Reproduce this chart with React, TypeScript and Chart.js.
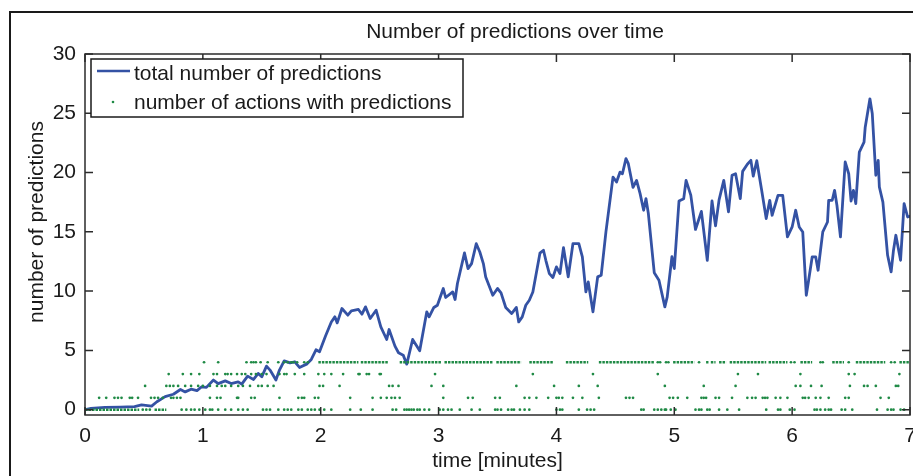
import { useEffect, useRef } from "react";
import { Chart, registerables } from "chart.js";

Chart.register(...registerables);

const FONT = '"Liberation Sans", Arial, Helvetica, sans-serif';
const TEXT = "#1a1a1a";
const BLUE = "#3452a4";
const GREEN = "#1f8a45";

const chartTitle = "Number of predictions over time";
const xTitle = "time [minutes]";
const yTitle = "number of predictions";
const lineLabel = "total number of predictions";
const dotLabel = "number of actions with predictions";

const xTicks = [0, 1, 2, 3, 4, 5, 6, 7];
const yTicks = [0, 5, 10, 15, 20, 25, 30];

// total number of predictions: time (minutes) and value
const timeMin = [
  0, 0.05, 0.17, 0.3, 0.42, 0.48, 0.565, 0.61, 0.68, 0.75, 0.81, 0.85, 0.9, 0.95, 0.99, 1.03,
  1.09, 1.13, 1.19, 1.24, 1.3, 1.33, 1.38, 1.43, 1.47, 1.5, 1.54, 1.57, 1.62, 1.65, 1.69, 1.74,
  1.78, 1.82, 1.88, 1.92, 1.96, 1.99, 2.04, 2.09, 2.12, 2.14, 2.18, 2.23, 2.26, 2.32, 2.35, 2.38,
  2.42, 2.47, 2.51, 2.56, 2.58, 2.63, 2.66, 2.7, 2.73, 2.78, 2.84, 2.9, 2.92, 2.96, 2.99, 3.04,
  3.06, 3.12, 3.14, 3.16, 3.22, 3.25, 3.28, 3.32, 3.35, 3.38, 3.4, 3.46, 3.5, 3.53, 3.57, 3.62,
  3.66, 3.68, 3.71, 3.74, 3.77, 3.8, 3.86, 3.89, 3.91, 3.94, 3.97, 4.0, 4.03, 4.06, 4.1, 4.14,
  4.19, 4.22, 4.25, 4.27, 4.31, 4.35, 4.38, 4.42, 4.48, 4.51, 4.54, 4.56, 4.59, 4.61, 4.65, 4.68,
  4.71, 4.74, 4.76, 4.78, 4.83, 4.87, 4.92, 4.94, 4.98, 5.0, 5.04, 5.08, 5.1, 5.14, 5.18, 5.23,
  5.28, 5.32, 5.35, 5.38, 5.42, 5.46, 5.49, 5.52, 5.56, 5.58, 5.62, 5.65, 5.67, 5.7, 5.74, 5.78,
  5.81, 5.83, 5.88, 5.92, 5.96, 6.0, 6.03, 6.06, 6.09, 6.12, 6.14, 6.17, 6.2, 6.22, 6.26, 6.3,
  6.31, 6.34, 6.36, 6.38, 6.41, 6.45, 6.48, 6.5, 6.52, 6.54, 6.57, 6.61, 6.62, 6.66, 6.68, 6.71,
  6.73, 6.74, 6.77, 6.81, 6.84, 6.86, 6.88, 6.92, 6.95, 6.98, 7.0,
];
const totalPredictions = [
  0, 0.1, 0.2, 0.22, 0.25, 0.4, 0.3, 0.67, 1.1, 1.3, 1.7, 1.5, 1.73, 1.6, 1.93, 1.88,
  2.5, 2.2, 2.43, 2.2, 2.35, 2.15, 2.83, 2.55, 3.06, 2.77, 3.67, 3.34, 2.5, 3.34, 4.12, 3.95,
  4.04, 3.56, 3.84, 4.24, 5.05, 4.88, 6.2, 7.4, 7.83, 7.32, 8.53, 7.97, 8.33, 8.45, 8.05, 8.67,
  7.69, 8.39, 6.98, 5.92, 6.76, 5.36, 4.8, 4.6, 3.84, 5.92, 4.96, 8.25, 7.83, 8.62, 8.81, 10.22,
  9.46, 9.93, 9.29, 10.64, 13.22, 11.9, 12.32, 14.0, 13.3, 12.32, 11.2, 9.65, 10.22, 9.85, 8.62, 8.11,
  8.62, 7.4, 7.83, 8.81, 9.23, 9.93, 13.2, 13.45, 12.6, 11.48, 11.15, 12.04, 11.48, 13.67, 11.2, 14.0,
  14.0, 12.88, 9.93, 10.77, 8.25, 11.2, 11.34, 15.0, 19.62, 19.2, 20.04, 19.9, 21.17, 20.75, 18.75, 19.34,
  18.22, 16.82, 17.8, 16.54, 11.55, 10.92, 8.67, 9.51, 12.9, 11.9, 17.6, 17.8, 19.34, 18.1, 15.2, 16.72,
  12.6, 17.6, 15.5, 17.7, 19.34, 16.68, 19.77, 19.9, 17.8, 20.1, 20.7, 21.03, 19.7, 21.0, 18.6, 16.12,
  17.66, 16.4, 18.08, 18.08, 14.57, 15.41, 16.82, 15.41, 14.99, 9.65, 10.92, 12.88, 12.88, 11.76, 14.99, 15.83,
  17.66, 17.66, 18.5, 17.24, 14.57, 20.89, 19.9, 17.6, 18.5, 17.38, 21.73, 22.57, 23.83, 26.22, 24.96, 19.77,
  21.03, 18.78, 17.51, 13.02, 11.62, 13.45, 14.71, 12.6, 17.38, 16.25, 16.3,
];

// number of actions with predictions: times of isolated samples per level
const actions0 = [
  0.49, 0.52, 0.55, 0.82, 0.86, 0.9, 0.93, 0.97, 1.02, 1.06, 1.08, 1.13, 1.19, 1.24, 1.3, 1.34,
  1.38, 1.51, 1.54, 1.57, 1.64, 1.69, 1.72, 1.75, 1.81, 1.84, 1.89, 1.92, 1.95, 1.99, 2.03, 2.09,
  2.25, 2.34, 2.44, 2.61, 2.64, 2.71, 2.73, 2.75, 2.77, 2.79, 2.82, 2.84, 2.88, 2.92, 3.01, 3.04,
  3.08, 3.11, 3.18, 3.28, 3.35, 3.48, 3.5, 3.53, 3.59, 3.62, 3.64, 3.69, 3.73, 3.77, 4.0, 4.03,
  4.05, 4.19, 4.26, 4.29, 4.32, 4.72, 4.74, 4.83, 4.86, 4.89, 4.92, 4.93, 4.97, 5.01, 5.18, 5.21,
  5.23, 5.28, 5.3, 5.38, 5.45, 5.55, 5.78, 5.88, 5.9, 5.98, 6.02, 6.19, 6.21, 6.24, 6.28, 6.31,
  6.33, 6.42, 6.45, 6.51, 6.72, 6.81, 6.84, 6.86, 6.92, 6.95,
];
const actions1 = [
  0.12, 0.18, 0.25, 0.28, 0.31, 0.38, 0.4, 0.45, 0.56, 0.59, 0.62, 0.66, 0.73, 0.75, 0.78, 0.81,
  1.06, 1.12, 1.15, 1.29, 1.3, 1.41, 1.44, 1.65, 1.81, 1.84, 1.86, 1.95, 1.98, 2.25, 2.44, 2.51,
  2.56, 2.6, 2.63, 2.67, 3.04, 3.25, 3.29, 3.48, 3.52, 3.73, 3.77, 3.83, 3.93, 4.0, 4.02, 4.05,
  4.14, 4.22, 4.36, 4.59, 4.62, 4.65, 4.96, 4.99, 5.03, 5.11, 5.23, 5.25, 5.27, 5.35, 5.38, 5.49,
  5.62, 5.66, 5.69, 5.75, 5.77, 5.79, 5.86, 5.9, 5.96, 6.09, 6.11, 6.14, 6.2, 6.24, 6.31, 6.45,
  6.48, 6.75, 6.82,
];
const actions2 = [
  0.51, 0.69, 0.72, 0.75, 0.79, 0.85, 0.9, 0.96, 1.0, 1.06, 1.12, 1.16, 1.19, 1.24, 1.3, 1.34,
  1.4, 1.47, 1.5, 1.55, 1.6, 1.99, 2.02, 2.16, 2.58, 2.61, 2.66, 2.94, 3.04, 3.66, 3.98, 4.19,
  4.35, 4.92, 5.25, 5.52, 6.03, 6.07, 6.16, 6.25, 6.49, 6.61, 6.64, 6.71, 6.88, 6.9,
];
const actions3 = [
  0.71, 0.83, 0.9, 0.97, 1.09, 1.12, 1.19, 1.21, 1.24, 1.29, 1.33, 1.36, 1.41, 1.45, 1.5, 1.54,
  1.65, 1.69, 1.71, 1.78, 1.86, 1.98, 2.03, 2.09, 2.19, 2.32, 2.33, 2.39, 2.41, 2.5, 2.51, 2.97,
  3.8, 4.31, 4.86, 5.54, 5.71, 6.07, 6.48, 6.53, 6.91,
];
const actions4 = [
  1.01, 1.13, 1.37, 1.41, 1.43, 1.45, 1.49, 1.55, 1.64, 1.69, 1.72, 1.75, 1.77, 1.8, 1.86, 1.89,
  4.86, 4.88, 4.93, 4.95, 5.21, 5.99, 6.02, 6.24, 6.26, 6.48, 6.84, 6.87,
];
// stretches where consecutive samples stay on one level: [start, end]
const runs0 = [[0, 0.46], [0.59, 0.69]];
const runs4 = [
  [1.98, 2.32], [2.34, 2.57], [2.67, 2.87], [2.88, 3.02], [3.05, 3.46], [3.49, 3.7], [3.77, 3.97],
  [4.08, 4.27], [4.36, 4.83], [4.99, 5.17], [5.27, 5.29], [5.31, 5.35], [5.38, 5.44], [5.47, 5.78],
  [5.8, 5.96], [6.07, 6.17], [6.34, 6.44], [6.54, 6.79], [6.91, 6.99],
];

const linePoints = timeMin.map((t, i) => ({ x: t, y: totalPredictions[i] }));
const dotPoints = [actions0, actions1, actions2, actions3, actions4].flatMap((list, level) =>
  list.map((t) => ({ x: t, y: level }))
);
const runPoints = [
  ...runs0.flatMap(([a, b]) => [{ x: a, y: 0 }, { x: b, y: 0 }, { x: b, y: null }]),
  ...runs4.flatMap(([a, b]) => [{ x: a, y: 4 }, { x: b, y: 4 }, { x: b, y: null }]),
];

const decor = {
  id: "decor",
  afterDraw(chart: any) {
    const { ctx, chartArea: a, scales } = chart;
    const xs = scales.x;
    const ys = scales.y;
    ctx.save();

    // figure frame
    ctx.strokeStyle = "#1a1a1a";
    ctx.lineWidth = 2;
    ctx.beginPath();
    ctx.moveTo(10, chart.height + 2);
    ctx.lineTo(10, 12);
    ctx.lineTo(chart.width + 2, 12);
    ctx.stroke();

    // axes box
    ctx.strokeStyle = "#2b2b2b";
    ctx.lineWidth = 1.5;
    ctx.strokeRect(a.left, a.top, a.right - a.left, a.bottom - a.top);

    // inward tick marks on all four sides
    const tl = 8;
    ctx.beginPath();
    for (const v of xTicks) {
      const px = xs.getPixelForValue(v);
      ctx.moveTo(px, a.bottom);
      ctx.lineTo(px, a.bottom - tl);
      ctx.moveTo(px, a.top);
      ctx.lineTo(px, a.top + tl);
    }
    for (const v of yTicks) {
      const py = ys.getPixelForValue(v);
      ctx.moveTo(a.left, py);
      ctx.lineTo(a.left + tl, py);
      ctx.moveTo(a.right, py);
      ctx.lineTo(a.right - tl, py);
    }
    ctx.stroke();

    // titles
    ctx.fillStyle = TEXT;
    ctx.font = `21px ${FONT}`;
    ctx.textBaseline = "alphabetic";
    ctx.textAlign = "center";
    ctx.fillText(chartTitle, 515, 38);
    ctx.fillText(xTitle, (a.left + a.right) / 2, 467);
    ctx.save();
    ctx.translate(43, 222);
    ctx.rotate(-Math.PI / 2);
    ctx.fillText(yTitle, 0, 0);
    ctx.restore();

    // legend
    const lx = a.left + 6;
    const ly = a.top + 5;
    const lw = 372;
    const lh = 58;
    ctx.fillStyle = "#fff";
    ctx.fillRect(lx, ly, lw, lh);
    ctx.strokeStyle = "#1a1a1a";
    ctx.lineWidth = 1.5;
    ctx.strokeRect(lx, ly, lw, lh);
    ctx.strokeStyle = BLUE;
    ctx.lineWidth = 2.6;
    ctx.beginPath();
    ctx.moveTo(lx + 6, ly + 12);
    ctx.lineTo(lx + 39, ly + 12);
    ctx.stroke();
    ctx.fillStyle = GREEN;
    ctx.beginPath();
    ctx.arc(lx + 22, ly + 43, 1.3, 0, Math.PI * 2);
    ctx.fill();
    ctx.fillStyle = TEXT;
    ctx.textAlign = "left";
    ctx.fillText(lineLabel, lx + 43, ly + 21);
    ctx.fillText(dotLabel, lx + 43, ly + 50);

    ctx.restore();
  },
};

export default function App() {
  const ref = useRef<HTMLCanvasElement>(null);

  useEffect(() => {
    const canvas = ref.current;
    if (!canvas) return;
    const chart = new Chart(canvas, {
      type: "line",
      data: {
        datasets: [
          {
            label: dotLabel,
            data: dotPoints as any,
            showLine: false,
            pointRadius: 1.35,
            pointHoverRadius: 1.35,
            pointBackgroundColor: GREEN,
            pointBorderWidth: 0,
            borderColor: GREEN,
            order: 0,
          },
          {
            label: dotLabel + " (runs)",
            data: runPoints as any,
            borderColor: GREEN,
            borderWidth: 2.5,
            borderDash: [2.5, 1],
            pointRadius: 0,
            spanGaps: false,
            order: 0,
          },
          {
            label: lineLabel,
            data: linePoints as any,
            borderColor: BLUE,
            borderWidth: 2.8,
            borderJoinStyle: "round",
            borderCapStyle: "round",
            pointRadius: 0,
            tension: 0,
            order: 1,
          },
        ],
      },
      options: {
        animation: false,
        responsive: false,
        devicePixelRatio: 1,
        events: [],
        layout: { padding: { top: 54, right: 3, left: 0, bottom: 0 } },
        plugins: {
          legend: { display: false },
          title: { display: false },
          tooltip: { enabled: false },
        },
        scales: {
          x: {
            type: "linear",
            min: 0,
            max: 7,
            grid: { display: false, drawTicks: false },
            border: { display: false },
            afterBuildTicks: (s: any) => {
              s.ticks = xTicks.map((v) => ({ value: v }));
            },
            afterFit: (s: any) => {
              s.height = 61;
              s.paddingLeft = 0;
              s.paddingRight = 0;
            },
            ticks: {
              font: { family: FONT, size: 21 },
              color: TEXT,
              padding: 9,
              maxRotation: 0,
              autoSkip: false,
            },
          },
          y: {
            type: "linear",
            min: -0.45,
            max: 30,
            grid: { display: false, drawTicks: false },
            border: { display: false },
            afterBuildTicks: (s: any) => {
              s.ticks = yTicks.map((v) => ({ value: v }));
            },
            afterFit: (s: any) => {
              s.width = 85;
              s.paddingTop = 0;
              s.paddingBottom = 0;
            },
            ticks: {
              font: { family: FONT, size: 21 },
              color: TEXT,
              padding: 9,
              autoSkip: false,
            },
          },
        },
      },
      plugins: [decor],
    });
    return () => chart.destroy();
  }, []);

  return (
    <div style={{ position: "absolute", left: 0, top: 0, width: 913, height: 476, background: "#fff" }}>
      <canvas ref={ref} width={913} height={476} style={{ display: "block" }} />
    </div>
  );
}
